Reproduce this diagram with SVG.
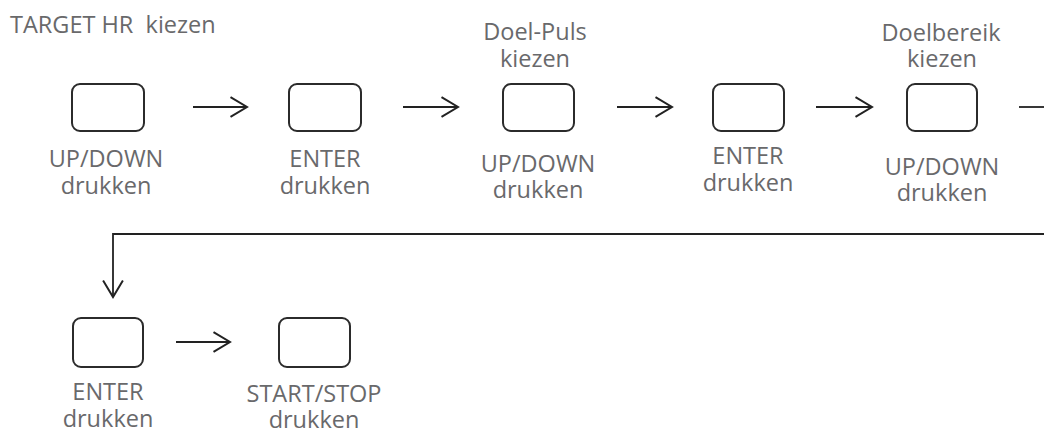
<svg xmlns="http://www.w3.org/2000/svg" width="1044" height="434" viewBox="0 0 1044 434">
<defs>
<style>
.t{font-family:"Open Sans","Liberation Sans",sans-serif;font-size:23.5px;fill:#69696b;text-anchor:middle}
.b{fill:#fff;stroke:#2b2b2b;stroke-width:2}
.c{fill:none;stroke:#222;stroke-width:1.8}
</style>
<marker id="ah" markerUnits="userSpaceOnUse" markerWidth="20" markerHeight="22" viewBox="-1 -1 18 20" refX="15" refY="9" orient="auto">
<path d="M0,0 L15,9 L0,18" fill="none" stroke="#222" stroke-width="1.8"/>
</marker>
</defs>
<rect width="1044" height="434" fill="#fff"/>
<text x="10" y="33" class="t" style="text-anchor:start;white-space:pre" xml:space="preserve">TARGET HR  kiezen</text>
<g id="connectors">
<line class="c" x1="193" y1="107" x2="247" y2="107" marker-end="url(#ah)"/>
<line class="c" x1="403" y1="107" x2="458" y2="107" marker-end="url(#ah)"/>
<line class="c" x1="617" y1="107" x2="672" y2="107" marker-end="url(#ah)"/>
<line class="c" x1="816" y1="107" x2="872" y2="107" marker-end="url(#ah)"/>
<line class="c" x1="1019" y1="107" x2="1044" y2="107"/>
<polyline class="c" points="1044,234 113,234 113,297" marker-end="url(#ah)"/>
<line class="c" x1="176" y1="342" x2="230" y2="342" marker-end="url(#ah)"/>
</g>
<g id="n1">
<rect class="b" x="72" y="84" width="72" height="47" rx="8"/>
<text class="t" x="106" y="167">UP/DOWN<tspan x="106" dy="27">drukken</tspan></text>
</g>
<g id="n2">
<rect class="b" x="289" y="84" width="72" height="47" rx="8"/>
<text class="t" x="325" y="167">ENTER<tspan x="325" dy="27">drukken</tspan></text>
</g>
<g id="n3">
<text class="t" x="535" y="40">Doel-Puls<tspan x="535" dy="27">kiezen</tspan></text>
<rect class="b" x="503" y="84" width="71" height="47" rx="8"/>
<text class="t" x="538" y="172">UP/DOWN<tspan x="538" dy="26">drukken</tspan></text>
</g>
<g id="n4">
<rect class="b" x="713" y="84" width="71" height="47" rx="8"/>
<text class="t" x="748" y="164">ENTER<tspan x="748" dy="27">drukken</tspan></text>
</g>
<g id="n5">
<text class="t" x="941" y="41">Doelbereik<tspan x="942" dy="26">kiezen</tspan></text>
<rect class="b" x="907" y="84" width="70" height="47" rx="8"/>
<text class="t" x="942" y="175">UP/DOWN<tspan x="942" dy="26">drukken</tspan></text>
</g>
<g id="n6">
<rect class="b" x="73" y="318" width="70" height="49" rx="8"/>
<text class="t" x="108" y="400">ENTER<tspan x="108" dy="27">drukken</tspan></text>
</g>
<g id="n7">
<rect class="b" x="279" y="318" width="71" height="49" rx="8"/>
<text class="t" x="314" y="402">START/STOP<tspan x="314" dy="26">drukken</tspan></text>
</g>
</svg>
